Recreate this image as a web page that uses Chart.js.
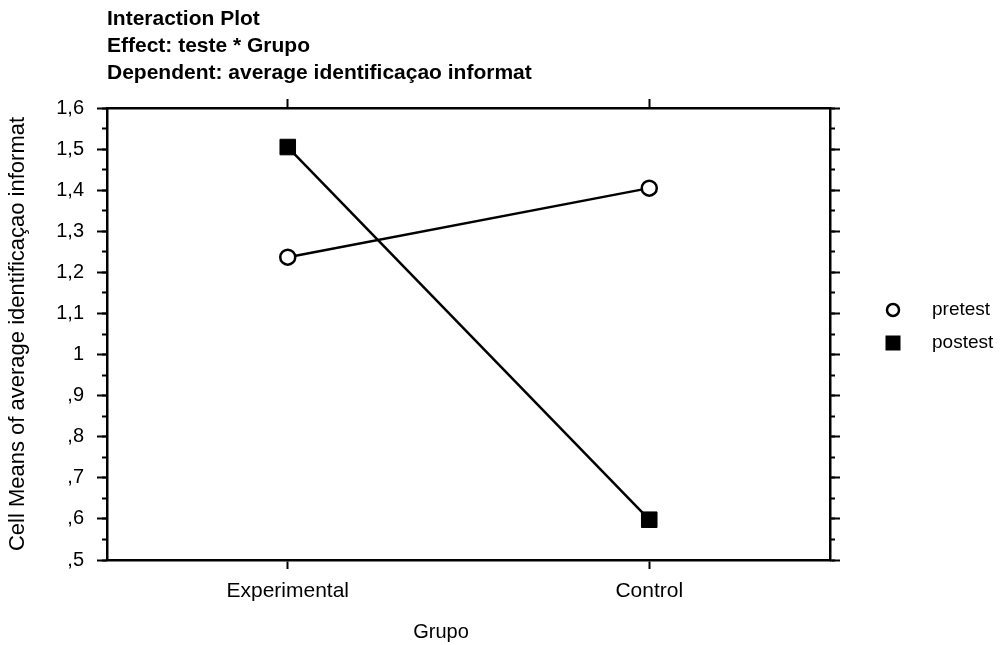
<!DOCTYPE html>
<html>
<head>
<meta charset="utf-8">
<script src="https://cdn.jsdelivr.net/npm/chart.js@4.4.1/dist/chart.umd.min.js"></script>
<style>
	html, body { margin: 0; padding: 0; background: #fff; }
	canvas { display: block; }
</style>
</head>
<body>
<canvas id="plot" width="1003" height="645"></canvas>
<script>
// data
const groups = ["Experimental", "Control"];
const pretest = [1.237, 1.405];
const postest = [1.505, 0.598];
const titleLines = [
	"Interaction Plot",
	"Effect: teste * Grupo",
	"Dependent: average identificaçao informat",
];
const seriesNames = ["pretest", "postest"];
const yMin = 0.5;
const yMax = 1.6;

const FONT = "'Liberation Sans', Arial, sans-serif";
const INK = "#000";

// y tick labels look like "1,6", "1", ",9"
function fmtTick(v) {
	const r = Math.round(v * 10) / 10;
	if (r === 1) return "1";
	return r.toFixed(1).replace(".", ",").replace(/^0/, "");
}

// Title lines drawn at the left edge of the plot area, plus the x axis name
const titlePlugin = {
	id: "titleLines",
	afterDraw(chart) {
		const ctx = chart.ctx;
		ctx.save();
		ctx.fillStyle = INK;
		ctx.font = "bold 21px " + FONT;
		ctx.textBaseline = "middle";
		ctx.textAlign = "left";
		titleLines.forEach((t, i) => {
			ctx.fillText(t, chart.chartArea.left, 19 + i * 27);
		});
		// x axis name sits a bit left of centre in the original
		ctx.font = "20px " + FONT;
		ctx.textAlign = "center";
		ctx.fillText("Grupo", 441, 632);
		ctx.restore();
	},
};

// Legend on the right side
const legendPlugin = {
	id: "sideLegend",
	afterDraw(chart) {
		const ctx = chart.ctx;
		const x = 893;
		const ys = [310, 343];
		ctx.save();
		ctx.font = "19px " + FONT;
		ctx.textBaseline = "middle";
		ctx.fillStyle = INK;
		// pretest: open circle
		ctx.beginPath();
		ctx.lineWidth = 2.5;
		ctx.strokeStyle = INK;
		ctx.arc(x, ys[0], 6, 0, Math.PI * 2);
		ctx.stroke();
		// postest: filled square
		ctx.fillRect(x - 7.5, ys[1] - 7.5, 15, 15);
		ctx.fillText(seriesNames[0], 932, ys[0]);
		ctx.fillText(seriesNames[1], 932, ys[1]);
		ctx.restore();
	},
};

const gridOff = {
	drawOnChartArea: false,
	color: INK,
	tickColor: INK,
	tickWidth: 2,
};

const chart = new Chart(document.getElementById("plot").getContext("2d"), {
	type: "line",
	data: {
		labels: groups,
		datasets: [
			{
				label: seriesNames[0],
				data: pretest,
				borderColor: INK,
				borderWidth: 2.5,
				pointStyle: "circle",
				pointRadius: 7.5,
				pointBorderWidth: 2.5,
				pointBackgroundColor: "#fff",
				pointBorderColor: INK,
				yAxisID: "y",
			},
			{
				label: seriesNames[1],
				data: postest,
				borderColor: INK,
				borderWidth: 2.5,
				pointStyle: "rect",
				pointRadius: 11,
				pointBorderWidth: 1,
				pointBackgroundColor: INK,
				pointBorderColor: INK,
				yAxisID: "y",
			},
		],
	},
	options: {
		responsive: false,
		animation: false,
		clip: false,
		layout: { padding: 0 },
		plugins: {
			legend: { display: false },
			title: { display: false },
			tooltip: { enabled: false },
		},
		scales: {
			x: {
				type: "category",
				position: "bottom",
				offset: true,
				grid: { ...gridOff, tickLength: 9, offset: false },
				border: { color: INK, width: 2.5 },
				ticks: {
					color: INK,
					font: { family: FONT, size: 21 },
					padding: 10,
					maxRotation: 0,
				},
				afterFit(scale) {
					scale.height = 85;
				},
			},
			xTop: {
				type: "category",
				position: "top",
				offset: true,
				grid: { ...gridOff, tickLength: 9, offset: false },
				border: { color: INK, width: 2.5 },
				ticks: { display: false },
				afterFit(scale) {
					scale.height = 108;
				},
			},
			y: {
				type: "linear",
				position: "left",
				weight: 1,
				min: yMin,
				max: yMax,
				grid: { ...gridOff, tickLength: 10 },
				border: { color: INK, width: 2.5 },
				ticks: {
					stepSize: 0.1,
					color: INK,
					font: { family: FONT, size: 20 },
					padding: 13,
					callback: (v) => fmtTick(v),
				},
				title: {
					display: true,
					text: "Cell Means of average identificaçao informat",
					color: INK,
					font: { family: FONT, size: 22 },
					padding: { top: 5, bottom: 0 },
				},
				afterFit(scale) {
					scale.width = 107;
				},
			},
			yMinor: {
				type: "linear",
				position: "left",
				weight: 0,
				min: yMin,
				max: yMax,
				grid: { ...gridOff, tickLength: 5 },
				border: { display: false },
				ticks: { display: false, stepSize: 0.05 },
				afterFit(scale) {
					scale.width = 0;
				},
			},
			yRight: {
				type: "linear",
				position: "right",
				weight: 1,
				min: yMin,
				max: yMax,
				grid: { ...gridOff, tickLength: 10 },
				border: { color: INK, width: 2.5 },
				ticks: { display: false, stepSize: 0.1 },
				afterFit(scale) {
					scale.width = 173;
				},
			},
			yRightMinor: {
				type: "linear",
				position: "right",
				weight: 0,
				min: yMin,
				max: yMax,
				grid: { ...gridOff, tickLength: 5 },
				border: { display: false },
				ticks: { display: false, stepSize: 0.05 },
				afterFit(scale) {
					scale.width = 0;
				},
			},
		},
	},
	plugins: [titlePlugin, legendPlugin],
});
</script>
</body>
</html>
